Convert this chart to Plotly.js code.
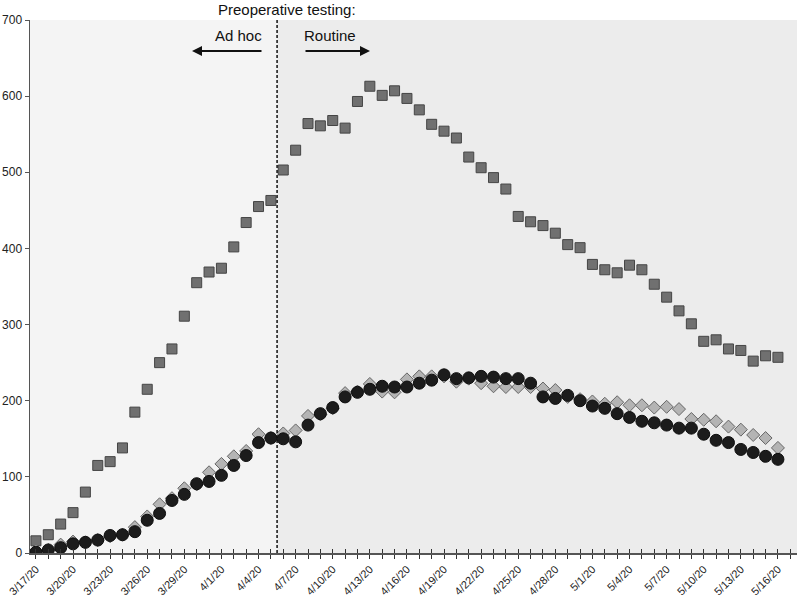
<!DOCTYPE html>
<html>
<head>
<meta charset="utf-8">
<script src="https://cdn.plot.ly/plotly-3.0.1.min.js"></script>
<style>html,body{margin:0;padding:0;background:#fff;}#chart{width:800px;height:596px;}</style>
</head>
<body>
<div id="chart"></div>
<script>
// Dates (one point per day)
const dates = [
 '2020-03-17','2020-03-18','2020-03-19','2020-03-20','2020-03-21','2020-03-22','2020-03-23','2020-03-24','2020-03-25','2020-03-26',
 '2020-03-27','2020-03-28','2020-03-29','2020-03-30','2020-03-31','2020-04-01','2020-04-02','2020-04-03','2020-04-04','2020-04-05',
 '2020-04-06','2020-04-07','2020-04-08','2020-04-09','2020-04-10','2020-04-11','2020-04-12','2020-04-13','2020-04-14','2020-04-15',
 '2020-04-16','2020-04-17','2020-04-18','2020-04-19','2020-04-20','2020-04-21','2020-04-22','2020-04-23','2020-04-24','2020-04-25',
 '2020-04-26','2020-04-27','2020-04-28','2020-04-29','2020-04-30','2020-05-01','2020-05-02','2020-05-03','2020-05-04','2020-05-05',
 '2020-05-06','2020-05-07','2020-05-08','2020-05-09','2020-05-10','2020-05-11','2020-05-12','2020-05-13','2020-05-14','2020-05-15',
 '2020-05-16'
];
// Series values
const squares = [16,24,38,53,80,115,120,138,185,215,250,268,311,355,369,374,402,434,455,463,
 503,529,564,561,568,558,593,613,601,607,597,582,563,554,545,520,506,493,478,442,
 435,430,420,405,401,379,372,368,378,372,353,336,318,301,278,280,268,266,252,259,257];
const diamonds = [3,4,11,15,14,17,22,24,34,48,64,72,85,90,106,117,127,134,156,151,
 157,161,180,182,190,210,212,222,212,211,228,232,232,232,225,229,223,219,218,218,
 218,216,214,205,202,199,196,198,194,194,191,192,189,176,175,173,166,162,155,151,138];
const circles = [1,4,7,12,14,17,23,24,28,43,52,69,77,91,94,102,115,128,145,151,
 150,146,168,183,191,205,211,215,219,218,218,223,227,234,229,230,232,231,229,229,
 223,205,203,207,200,193,190,183,178,173,171,168,164,164,156,148,145,136,132,127,123];
// Annotation texts
const headerText = 'Preoperative testing:';
const leftText = 'Ad hoc';
const rightText = 'Routine';
const switchDate = '2020-04-05 12:00';
const xStart = '2020-03-16 12:30';
const xEnd = '2020-05-17 13:00';

const font = 'Liberation Sans, Arial, Helvetica, sans-serif';

const traces = [
  {x: dates, y: squares, type: 'scatter', mode: 'markers', name: 'squares',
   marker: {symbol: 'square', size: 10, color: '#707070', line: {color: '#454545', width: 1}}},
  {x: dates, y: diamonds, type: 'scatter', mode: 'markers', name: 'diamonds',
   marker: {symbol: 'diamond', size: 10, color: '#b4b4b4', line: {color: '#666666', width: 1}}},
  {x: dates, y: circles, type: 'scatter', mode: 'markers', name: 'circles', xaxis: 'x2',
   marker: {symbol: 'circle', size: 12, color: '#1c1c1c', line: {color: '#0e0e0e', width: 1}}}
];

const layout = {
  width: 800, height: 596,
  margin: {l: 30, r: 3, t: 20, b: 43},
  paper_bgcolor: '#ffffff',
  plot_bgcolor: '#ececec',
  showlegend: false,
  font: {family: font, color: '#222', size: 12},
  xaxis: {
    type: 'date', range: [xStart, xEnd],
    tick0: '2020-03-17', dtick: 3 * 86400000, tickformat: '%-m/%-d/%y',
    tickangle: -45, tickfont: {size: 11, color: '#222'},
    ticks: 'outside', ticklen: 4, tickwidth: 1, tickcolor: '#333',
    minor: {tick0: '2020-03-17', dtick: 86400000, ticks: 'outside', ticklen: 4, tickwidth: 1, tickcolor: '#333'},
    showline: true, linecolor: '#555', linewidth: 1.5,
    showgrid: false, zeroline: false, fixedrange: true
  },
  xaxis2: {
    type: 'date', range: [xStart, xEnd], overlaying: 'x', anchor: 'y',
    tick0: '2020-03-17', dtick: 3 * 86400000, showticklabels: false,
    ticks: 'inside', ticklen: 4, tickwidth: 1, tickcolor: '#333',
    minor: {tick0: '2020-03-17', dtick: 86400000, ticks: 'inside', ticklen: 4, tickwidth: 1, tickcolor: '#333'},
    showline: false, showgrid: false, zeroline: false, fixedrange: true
  },
  yaxis: {
    range: [0, 700], tick0: 0, dtick: 100,
    ticks: 'outside', ticklen: 4, tickwidth: 1, tickcolor: '#555',
    tickfont: {size: 12, color: '#222'},
    showline: true, linecolor: '#555', linewidth: 1.5,
    showgrid: false, zeroline: false, fixedrange: true
  },
  shapes: [
    {type: 'rect', layer: 'below', xref: 'x', yref: 'paper', x0: xStart, x1: switchDate, y0: 0, y1: 1,
     fillcolor: '#f4f4f4', line: {width: 0}},
    {type: 'line', layer: 'above', xref: 'x', yref: 'paper', x0: switchDate, x1: switchDate, y0: 0, y1: 1,
     line: {color: '#111', width: 1.5, dash: '3px,2px'}}
  ],
  annotations: [
    {text: headerText, xref: 'paper', yref: 'paper', x: 0.335, y: 1.019, showarrow: false,
     xanchor: 'center', yanchor: 'middle', font: {size: 15, color: '#111', family: font}},
    {text: leftText, xref: 'paper', yref: 'paper', x: 0.2712, y: 0.970, showarrow: false,
     xanchor: 'center', yanchor: 'middle', font: {size: 15, color: '#111', family: font}},
    {text: rightText, xref: 'paper', yref: 'paper', x: 0.391, y: 0.970, showarrow: false,
     xanchor: 'center', yanchor: 'middle', font: {size: 15, color: '#111', family: font}},
    {text: '', xref: 'paper', yref: 'paper', x: 0.2112, y: 0.9418, showarrow: true,
     ax: 71, ay: 0, arrowhead: 2, arrowsize: 1, arrowwidth: 2, arrowcolor: '#111', standoff: 0, startstandoff: 0},
    {text: '', xref: 'paper', yref: 'paper', x: 0.4433, y: 0.9418, showarrow: true,
     ax: -66, ay: 0, arrowhead: 2, arrowsize: 1, arrowwidth: 2, arrowcolor: '#111', standoff: 0, startstandoff: 0}
  ]
};

Plotly.newPlot('chart', traces, layout, {displayModeBar: false, staticPlot: true});
</script>
</body>
</html>
